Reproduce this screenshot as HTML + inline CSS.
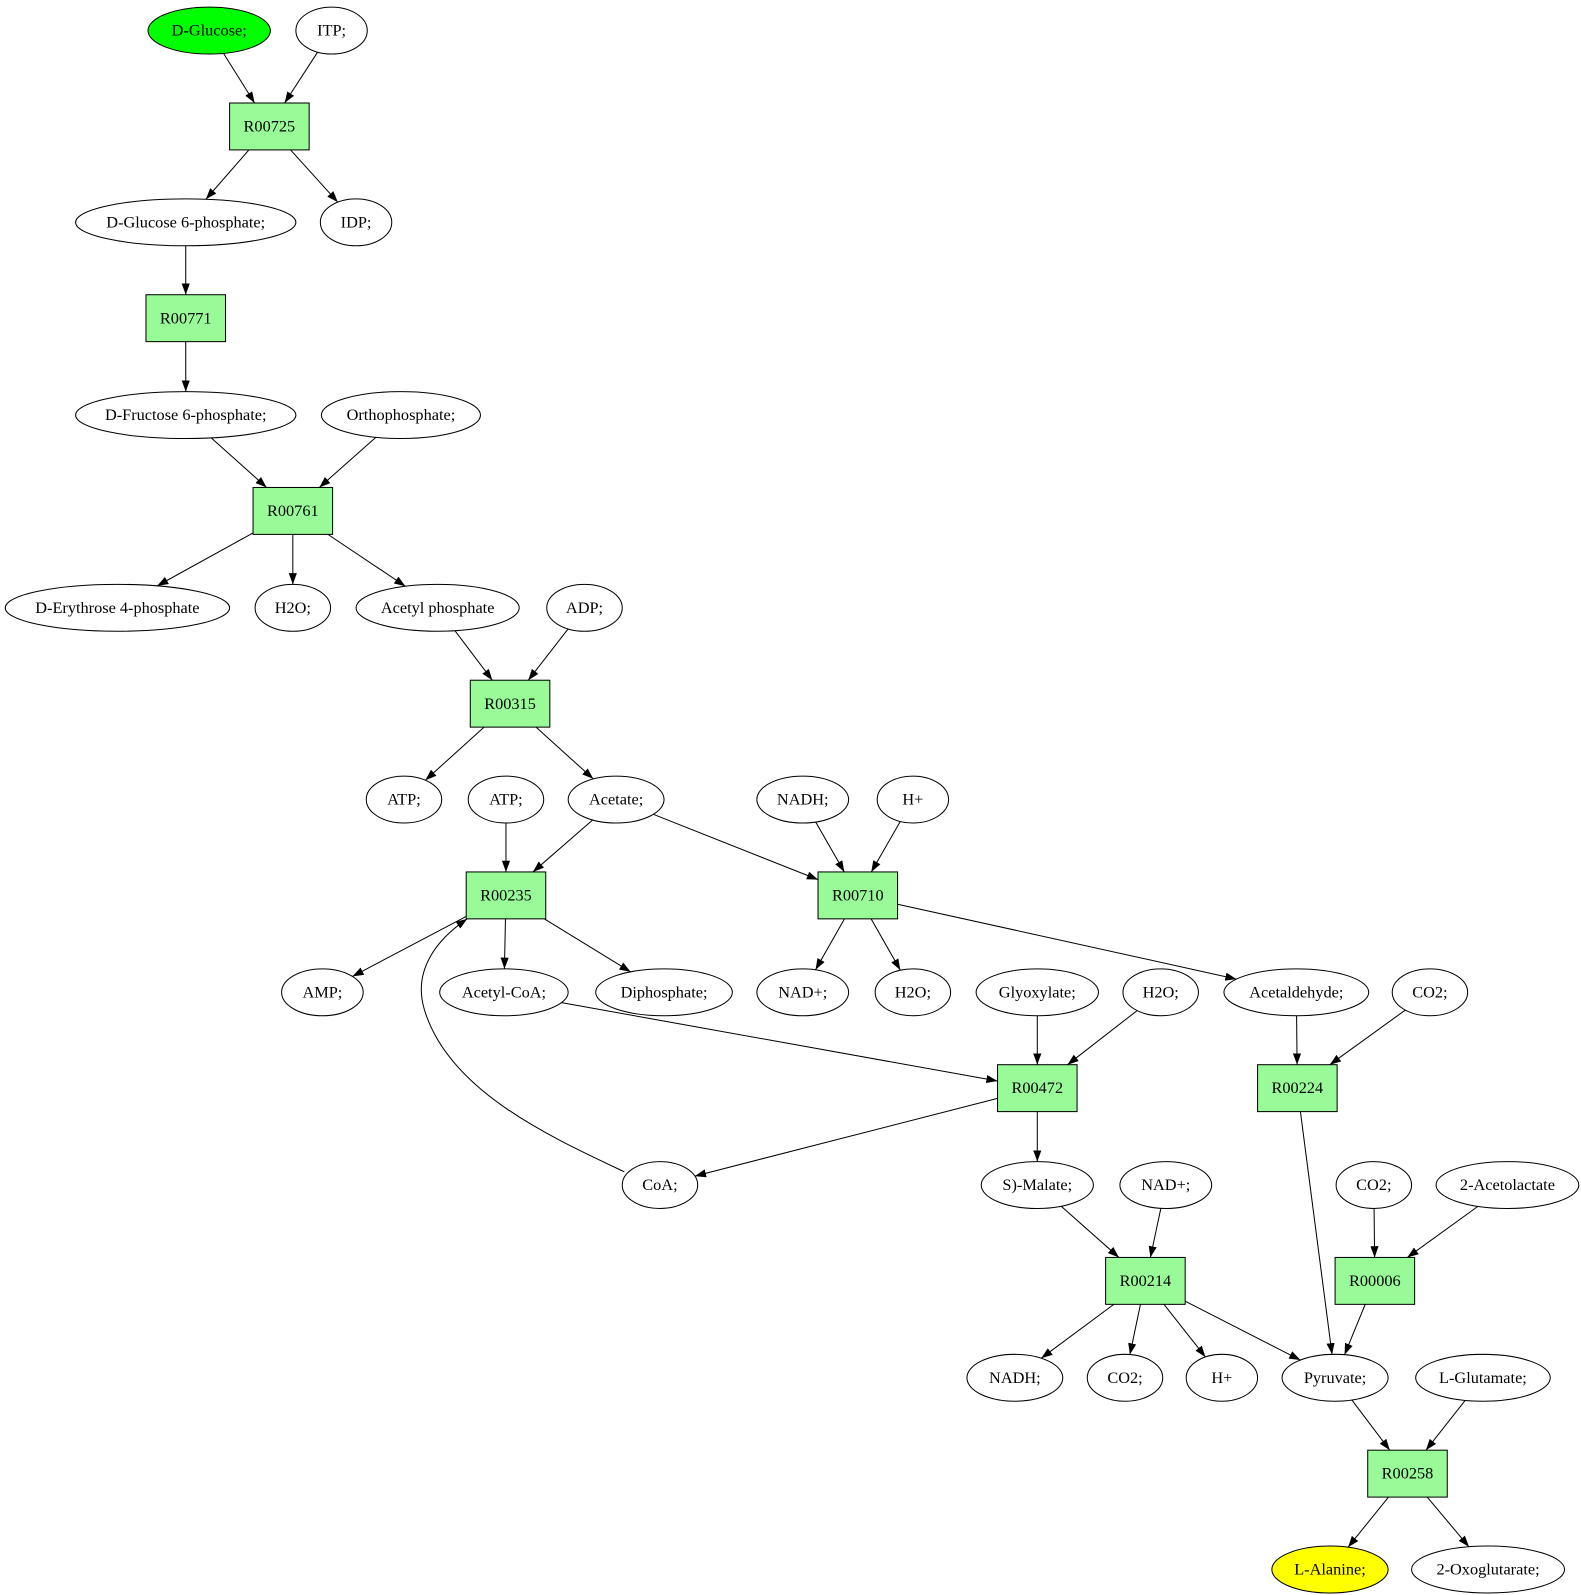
<!DOCTYPE html>
<html><head><meta charset="utf-8"><style>
html,body{margin:0;padding:0;background:#fff;}
svg{display:block;}
text{font-family:"Liberation Serif",serif;font-size:16px;}
</style></head><body>
<svg id="s" width="1581" height="1595" viewBox="0 0 1550 1564" xmlns="http://www.w3.org/2000/svg">
<defs><marker id="a" markerWidth="11" markerHeight="8" refX="11" refY="4" orient="auto" markerUnits="userSpaceOnUse"><path d="M0,0 L11,4 L0,8 z" fill="#000"/></marker></defs>
<g id="e" stroke="#000" stroke-width="1" fill="none"></g>
<g id="n"></g>
</svg>
<script>
var N={
DGlc:['e',205,30,60,'D-Glucose;','#00ff00'],ITP:['e',325,30,35,'ITP;'],
R725:['b',264,124,'R00725'],
G6P:['e',182,218,108,'D-Glucose 6-phosphate;'],IDP:['e',349,218,35,'IDP;'],
R771:['b',182,312,'R00771'],
F6P:['e',182,407,108,'D-Fructose 6-phosphate;'],Orth:['e',393,407,78,'Orthophosphate;'],
R761:['b',287,501,'R00761'],
E4P:['e',115,596,110,'D-Erythrose 4-phosphate'],H2O1:['e',287,596,37,'H2O;'],AcP:['e',429,596,80,'Acetyl phosphate'],ADP:['e',573,596,37,'ADP;'],
R315:['b',500,690,'R00315'],
ATP1:['e',396,784,37,'ATP;'],ATP2:['e',496,784,37,'ATP;'],Acet:['e',604,784,47,'Acetate;'],NADH1:['e',787,784,45,'NADH;'],Hp1:['e',895,784,35,'H+'],
R235:['b',496,878,'R00235'],R710:['b',841,878,'R00710'],
AMP:['e',316,973,40,'AMP;'],AcCoA:['e',494,973,63,'Acetyl-CoA;'],Diph:['e',651,973,67,'Diphosphate;'],NAD1:['e',787,973,45,'NAD+;'],H2O2:['e',895,973,37,'H2O;'],Glyo:['e',1017,973,60,'Glyoxylate;'],H2O3:['e',1138,973,37,'H2O;'],Ald:['e',1271,973,71,'Acetaldehyde;'],CO2a:['e',1402,973,37,'CO2;'],
R472:['b',1017,1067,'R00472'],R224:['b',1272,1067,'R00224'],
CoA:['e',647,1162,37,'CoA;'],Mal:['e',1017,1162,55,'S)-Malate;'],NAD2:['e',1143,1162,45,'NAD+;'],CO2b:['e',1347,1162,37,'CO2;'],Acl:['e',1478,1162,70,'2-Acetolactate'],
R214:['b',1123,1256,'R00214'],R006:['b',1348,1256,'R00006'],
NADH2:['e',995,1351,47,'NADH;'],CO2c:['e',1103,1351,37,'CO2;'],Hp2:['e',1198,1351,35,'H+'],Pyr:['e',1309,1351,52,'Pyruvate;'],Glu:['e',1454,1351,66,'L-Glutamate;'],
R258:['b',1380,1445,'R00258'],
Ala:['e',1304,1539,57,'L-Alanine;','#ffff00'],Oxo:['e',1459,1539,75,'2-Oxoglutarate;']};
var E=[['DGlc','R725'],['ITP','R725'],['R725','G6P'],['R725','IDP'],['G6P','R771'],['R771','F6P'],['F6P','R761'],['Orth','R761'],['R761','E4P'],['R761','H2O1'],['R761','AcP'],['AcP','R315'],['ADP','R315'],['R315','ATP1'],['R315','Acet'],['ATP2','R235'],['Acet','R235'],['Acet','R710'],['NADH1','R710'],['Hp1','R710'],['R235','AMP'],['R235','AcCoA'],['R235','Diph'],['R710','NAD1'],['R710','H2O2'],['R710','Ald'],['AcCoA','R472'],['Glyo','R472'],['H2O3','R472'],['R472','CoA'],['R472','Mal'],['Ald','R224'],['CO2a','R224'],['R224','Pyr'],['Mal','R214'],['NAD2','R214'],['CO2b','R006'],['Acl','R006'],['R006','Pyr'],['R214','NADH2'],['R214','CO2c'],['R214','Hp2'],['R214','Pyr'],['Pyr','R258'],['Glu','R258'],['R258','Ala'],['R258','Oxo']];
var NS='http://www.w3.org/2000/svg';
function el(t,a,p){var x=document.createElementNS(NS,t);for(var k in a)x.setAttribute(k,a[k]);p.appendChild(x);return x;}
function clip(n,dx,dy){
 if(n[0]=='b'){var hw=39,hh=23;return Math.min(dx?hw/Math.abs(dx):1e9,dy?hh/Math.abs(dy):1e9);}
 var rx=n[3],ry=23;return 1/Math.sqrt(dx*dx/(rx*rx)+dy*dy/(ry*ry));}
var ge=document.getElementById('e'),gn=document.getElementById('n');
E.forEach(function(p){var a=N[p[0]],b=N[p[1]];var dx=b[1]-a[1],dy=b[2]-a[2],L=Math.hypot(dx,dy);dx/=L;dy/=L;
 var t1=clip(a,dx,dy),t2=clip(b,dx,dy);
 el('line',{x1:a[1]+dx*t1,y1:a[2]+dy*t1,x2:b[1]-dx*t2,y2:b[2]-dy*t2,'marker-end':'url(#a)'},ge);});
el('path',{d:'M612,1149 C540,1115 440,1070 416,990 C404,950 430,920 458,901','marker-end':'url(#a)'},ge);
for(var k in N){var n=N[k];
 if(n[0]=='b'){el('rect',{x:n[1]-39,y:n[2]-23,width:78,height:46,fill:'#98fb98',stroke:'#000'},gn);var t=el('text',{x:n[1],y:n[2]+5,'text-anchor':'middle'},gn);t.textContent=n[3];}
 else{el('ellipse',{cx:n[1],cy:n[2],rx:n[3],ry:23,fill:n[5]||'#fff',stroke:'#000'},gn);var t=el('text',{x:n[1],y:n[2]+5,'text-anchor':'middle'},gn);t.textContent=n[4];}}
</script>
</body></html>
